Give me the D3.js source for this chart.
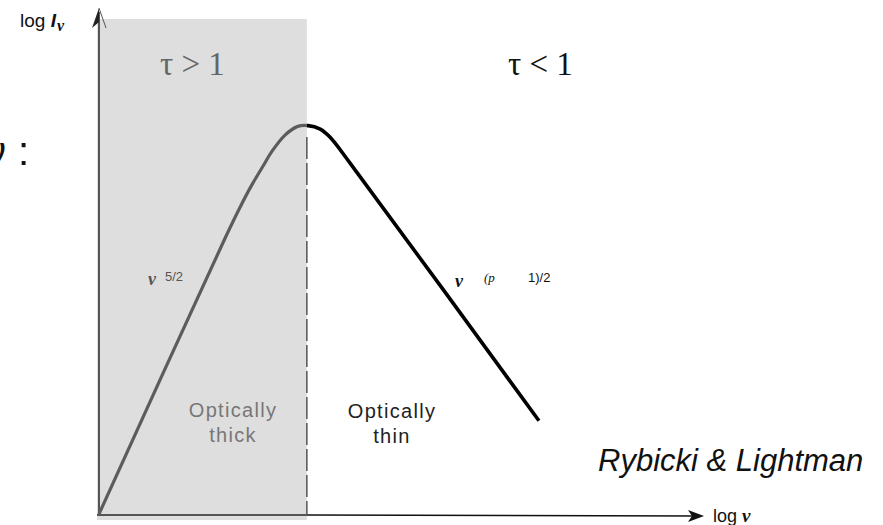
<!DOCTYPE html>
<html>
<head>
<meta charset="utf-8">
<script src="https://cdn.jsdelivr.net/npm/d3@7"></script>
<style>
  html, body { margin: 0; padding: 0; background: #fff; }
  svg { display: block; }
</style>
</head>
<body>
<svg id="chart" width="883" height="525"></svg>
<script>
// Synchrotron self-absorbed spectrum: log I_nu versus log nu (arbitrary units)
const logNu = [0, 2.08, 2.33, 2.52, 2.69, 2.87, 3.07, 3.27, 3.45, 3.65, 3.81, 4.14, 7.26];
const logI  = [0, 5.56, 6.19, 6.63, 6.98, 7.34, 7.64, 7.81, 7.83, 7.76, 7.60, 7.08, 1.88];
// frequency where the optical depth reaches unity
const tauOneLogNu = 3.43;
const regionLabels = ["τ > 1", "τ < 1"];
const regimeLabels = [["Optically", "thick"], ["Optically", "thin"]];

const svg = d3.select("#chart");
const x = d3.scaleLinear().domain([0, 10]).range([99, 705]);
const y = d3.scaleLinear().domain([0, 10]).range([514, 18]);

const pts = logNu.map((v, i) => [v, logI[i]]);
const line = d3.line().x(d => x(d[0])).y(d => y(d[1])).curve(d3.curveCatmullRom.alpha(0.5));

// optically thick region
svg.append("rect")
  .attr("x", x(0) - 2).attr("y", y(10) + 1)
  .attr("width", x(tauOneLogNu) - x(0) + 2)
  .attr("height", 520 - y(10) - 1)
  .attr("fill", "#dedede");

const defs = svg.append("defs");
defs.append("clipPath").attr("id", "thick")
  .append("rect").attr("x", 0).attr("y", 0).attr("width", x(tauOneLogNu)).attr("height", 525);
defs.append("clipPath").attr("id", "thin")
  .append("rect").attr("x", x(tauOneLogNu)).attr("y", 0).attr("width", 883).attr("height", 525);

// axes
const x0 = x(0), y0 = y(0) + 1;
svg.append("line").attr("x1", x0).attr("y1", y0).attr("x2", x0).attr("y2", 12)
  .attr("stroke", "#555").attr("stroke-width", 2);
svg.append("path").attr("d", `M${x0},8 L${x0 - 7},28 L${x0},22 Z`).attr("fill", "#222");
svg.append("path").attr("d", `M${x0},8 L${x0 + 7},28`).attr("stroke", "#555").attr("stroke-width", 1).attr("fill", "none");

svg.append("line").attr("x1", x0 - 2).attr("y1", y0).attr("x2", x(tauOneLogNu)).attr("y2", y0)
  .attr("stroke", "#555").attr("stroke-width", 2);
svg.append("line").attr("x1", x(tauOneLogNu)).attr("y1", y0).attr("x2", 698).attr("y2", y0 + 1)
  .attr("stroke", "#111").attr("stroke-width", 1.6);
svg.append("path").attr("d", `M704,${y0 + 1} L688,${y0 - 5} L692,${y0 + 1} L688,${y0 + 7} Z`).attr("fill", "#111");

// tau = 1 boundary
svg.append("line")
  .attr("x1", x(tauOneLogNu)).attr("x2", x(tauOneLogNu))
  .attr("y1", y(7.6)).attr("y2", y0)
  .attr("stroke", "#555").attr("stroke-width", 1.5)
  .attr("stroke-dasharray", "22,4");

// spectrum
svg.append("path").datum(pts).attr("d", line).attr("clip-path", "url(#thick)")
  .attr("fill", "none").attr("stroke", "#5c5c5c").attr("stroke-width", 3.2);
svg.append("path").datum(pts).attr("d", line).attr("clip-path", "url(#thin)")
  .attr("fill", "none").attr("stroke", "#000").attr("stroke-width", 3.6);

// axis titles
const yt = svg.append("text").attr("x", 20).attr("y", 27)
  .attr("font-family", "Liberation Sans, Arial, sans-serif").attr("font-size", 19).attr("fill", "#111");
yt.append("tspan").text("log ");
yt.append("tspan").attr("font-weight", "bold").attr("font-style", "italic").attr("font-size", 19).text("I");
yt.append("tspan").attr("font-family", "Liberation Serif, serif").attr("font-weight", "bold")
  .attr("font-style", "italic").attr("font-size", 16).attr("dx", 1).attr("dy", 4).text("ν");

const xt = svg.append("text").attr("x", 713).attr("y", 522)
  .attr("font-family", "Liberation Sans, Arial, sans-serif").attr("font-size", 18).attr("fill", "#111");
xt.append("tspan").text("log ");
xt.append("tspan").attr("font-family", "Liberation Serif, serif").attr("font-weight", "bold")
  .attr("font-style", "italic").attr("font-size", 19).text("ν");

// region labels
svg.append("text").attr("x", 160).attr("y", 75)
  .attr("font-family", "Liberation Serif, Times New Roman, serif").attr("font-size", 33)
  .attr("fill", "#666").text(regionLabels[0]);
svg.append("text").attr("x", 508).attr("y", 75)
  .attr("font-family", "Liberation Serif, Times New Roman, serif").attr("font-size", 33)
  .attr("fill", "#111").text(regionLabels[1]);

// regime labels
const regimeX = [233, 392], regimeFill = ["#777", "#222"];
regimeLabels.forEach((lines, i) => {
  const t = svg.append("text").attr("text-anchor", "middle")
    .attr("font-family", "Liberation Sans, Arial, sans-serif").attr("font-size", 20)
    .attr("letter-spacing", 1.3).attr("fill", regimeFill[i]);
  lines.forEach((s, j) => t.append("tspan").attr("x", regimeX[i]).attr("y", 417 + (i ? 1 : 0) + j * 25).text(s));
});

// power-law slopes
const s1 = svg.append("text").attr("x", 148).attr("y", 285).attr("fill", "#555");
s1.append("tspan").attr("font-family", "Liberation Serif, serif").attr("font-weight", "bold")
  .attr("font-style", "italic").attr("font-size", 18).text("ν");
s1.append("tspan").attr("font-family", "Liberation Sans, sans-serif").attr("font-size", 13)
  .attr("x", 165).attr("y", 281).text("5/2");

const s2 = svg.append("text").attr("x", 455).attr("y", 287).attr("fill", "#111");
s2.append("tspan").attr("font-family", "Liberation Serif, serif").attr("font-weight", "bold")
  .attr("font-style", "italic").attr("font-size", 18).text("ν");
s2.append("tspan").attr("font-family", "Liberation Serif, serif").attr("font-style", "italic")
  .attr("font-size", 13).attr("x", 484).attr("y", 282).text("(p");
s2.append("tspan").attr("font-family", "Liberation Sans, sans-serif")
  .attr("font-size", 13).attr("x", 528).attr("y", 282).text("1)/2");

// left margin symbol
svg.append("text").attr("x", 6).attr("y", 165).attr("text-anchor", "end")
  .attr("font-family", "Liberation Sans, Arial, sans-serif").attr("font-size", 40).attr("fill", "#111").text("ν");
svg.append("text").attr("x", 18).attr("y", 165)
  .attr("font-family", "Liberation Sans, Arial, sans-serif").attr("font-size", 40).attr("fill", "#111").text(":");

// source
svg.append("text").attr("x", 598).attr("y", 471)
  .attr("font-family", "Liberation Sans, Arial, sans-serif").attr("font-style", "italic")
  .attr("font-size", 31).attr("fill", "#111").text("Rybicki & Lightman");
</script>
</body>
</html>
